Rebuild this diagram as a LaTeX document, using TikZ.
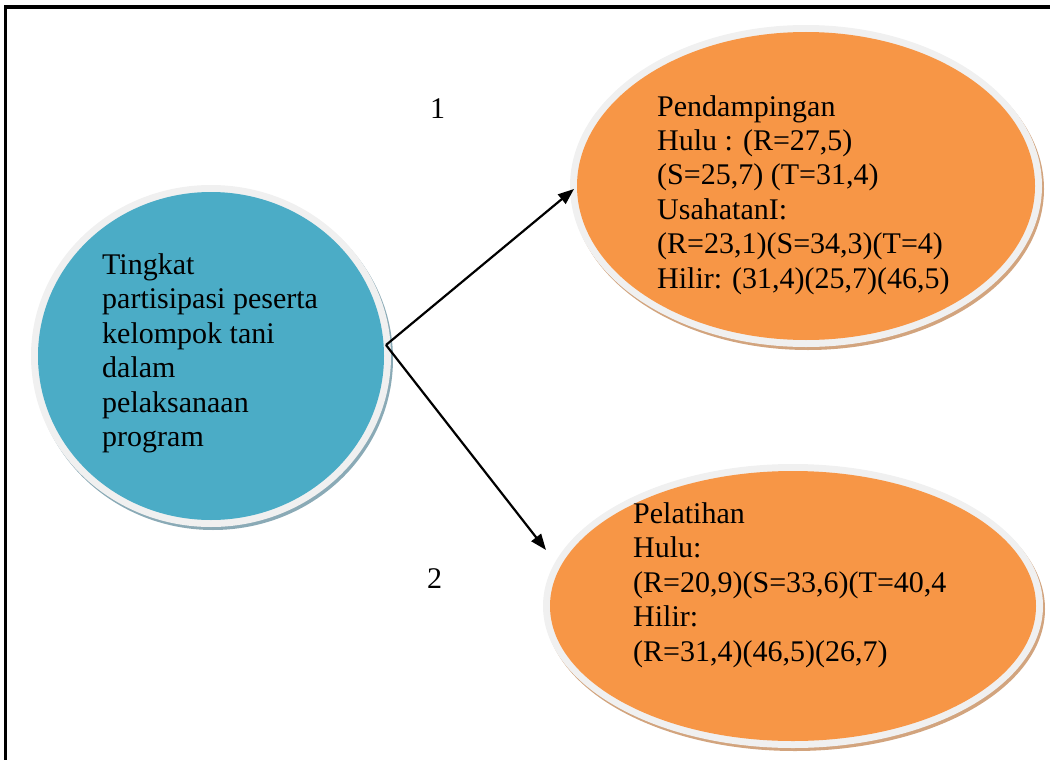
\documentclass[tikz,border=0pt]{standalone}
\usepackage{fontspec}
\setmainfont{Liberation Serif}
\usetikzlibrary{shapes.geometric,arrows.meta}
\definecolor{bluefill}{HTML}{4BACC6}
\definecolor{orangefill}{HTML}{F79646}
\definecolor{rimgray}{HTML}{F0F0F0}
\definecolor{blueedge}{HTML}{8AAAB6}
\definecolor{orangeedge}{HTML}{D2A47E}
\begin{document}
\begin{tikzpicture}[x=1pt,y=-1pt,
  txt/.style={anchor=base west, inner sep=0pt, font=\fontsize{30}{34.5}\selectfont},
  bubble/.style={ellipse, inner sep=0pt, draw=none},
  conn/.style={line width=2.2pt, -{Triangle[length=16pt,width=12pt]}}]
\useasboundingbox (0,0) rectangle (1050,760);
\clip (0,0) rectangle (1050,760);
\draw[line width=3.5pt] (5.5,7) rectangle (1070,790);
% blue circle
\node[bubble, fill=blueedge, minimum width=360pt, minimum height=342pt] (bshadow) at (213,359) {};
\node[bubble, fill=rimgray, minimum width=360pt, minimum height=342pt] (brim) at (211,356) {};
\node[bubble, fill=bluefill, minimum width=346pt, minimum height=328pt] (blue) at (211,356) {};
% top orange ellipse
\node[bubble, fill=orangeedge, minimum width=472pt, minimum height=322pt] (tshadow) at (808,189) {};
\node[bubble, fill=rimgray, minimum width=472pt, minimum height=322pt] (trim) at (806,186) {};
\node[bubble, fill=orangefill, minimum width=458pt, minimum height=308pt] (top) at (806,186) {};
% bottom orange ellipse
\node[bubble, fill=orangeedge, minimum width=500pt, minimum height=284pt] (lshadow) at (795,609) {};
\node[bubble, fill=rimgray, minimum width=500pt, minimum height=284pt] (lrim) at (793,606) {};
\node[bubble, fill=orangefill, minimum width=486pt, minimum height=270pt] (low) at (793,606) {};
% texts
\node[txt] (t0) at (102,274) {\begin{tabular}[t]{@{}l@{}}Tingkat\\partisipasi peserta\\kelompok tani\\dalam\\pelaksanaan\\program\end{tabular}};
\node[txt] (t1) at (657,116) {\begin{tabular}[t]{@{}l@{}}Pendampingan\\Hulu : (R=27,5)\\(S=25,7) (T=31,4)\\UsahatanI:\\(R=23,1)(S=34,3)(T=4)\\Hilir: (31,4)(25,7)(46,5)\end{tabular}};
\node[txt] (t2) at (633,523) {\begin{tabular}[t]{@{}l@{}}Pelatihan\\Hulu:\\(R=20,9)(S=33,6)(T=40,4\\Hilir:\\(R=31,4)(46,5)(26,7)\end{tabular}};
\node[txt] (n1) at (430,118) {1};
\node[txt] (n2) at (427,588) {2};
% connectors
\coordinate (s) at (386,345);
\coordinate (e1) at (574,189);
\coordinate (e2) at (546,550);
\draw[conn] (s) -- (e1);
\draw[conn] (s) -- (e2);
\end{tikzpicture}
\end{document}
